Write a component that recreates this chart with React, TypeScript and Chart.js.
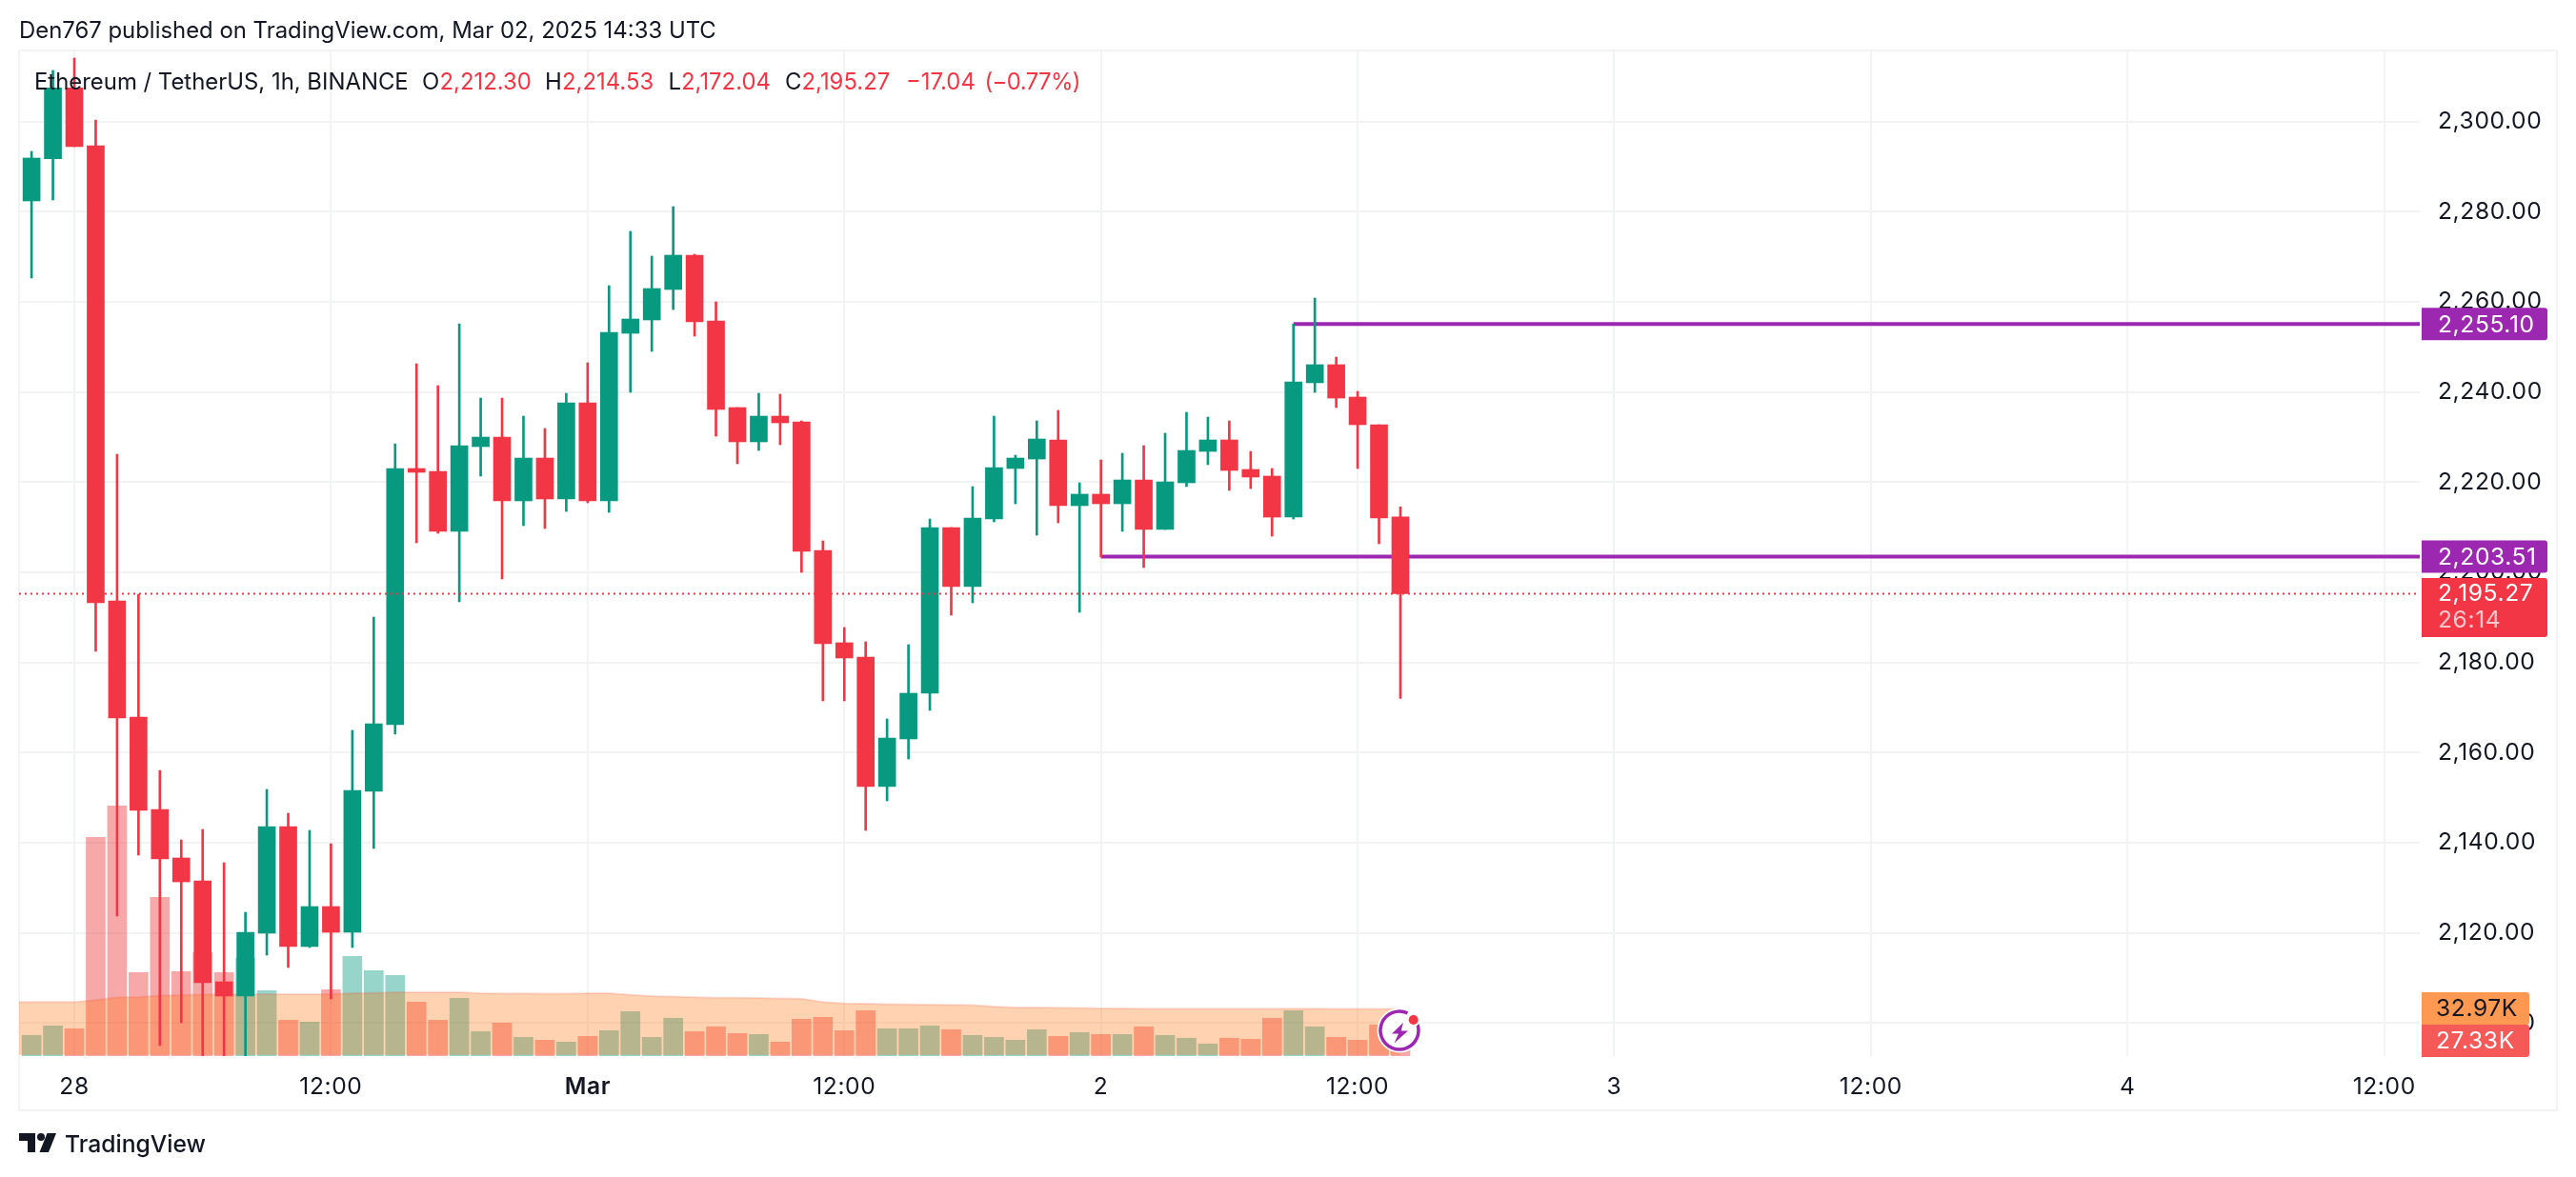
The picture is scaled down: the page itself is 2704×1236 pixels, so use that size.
import React, { useEffect, useRef } from "react";
import { Chart, registerables } from "chart.js";

Chart.register(...registerables);

const opens = [2282.4,2291.76,2307.48,2294.65,2193.66,2167.89,2147.39,2136.62,2131.55,2109.15,2105.98,2119.93,2143.59,2116.97,2125.84,2120.14,2151.41,2166.2,2223.03,2222.4,2209.09,2227.89,2230,2215.85,2225.35,2216.27,2237.61,2215.85,2253.03,2255.99,2262.75,2270.36,2255.78,2236.55,2228.95,2234.65,2233.38,2204.86,2184.37,2181.2,2152.46,2163.03,2173.17,2209.93,2196.83,2211.83,2223.03,2225.14,2229.37,2214.79,2217.33,2215.21,2220.49,2209.51,2219.86,2226.83,2229.37,2222.82,2221.34,2212.25,2242.05,2246.06,2238.88,2232.75,2212.3];
const highs = [2293.39,2311.35,2314.09,2300.36,2226.2,2195.14,2156.05,2140.63,2142.95,2135.56,2124.57,2151.83,2146.55,2142.74,2139.79,2164.93,2190.07,2228.52,2246.27,2241.41,2255.14,2238.66,2238.66,2234.65,2231.9,2239.72,2246.48,2263.6,2275.64,2270.15,2281.13,2270.57,2260,2236.55,2239.72,2239.51,2233.59,2206.97,2187.75,2184.58,2167.46,2183.94,2211.83,2209.93,2219.02,2234.65,2225.99,2233.59,2235.92,2219.86,2224.93,2226.41,2228.1,2230.85,2235.5,2234.44,2233.59,2226.83,2223.03,2255.1,2260.85,2247.75,2240.14,2232.75,2214.53];
const lows = [2265.29,2282.61,2294.44,2182.46,2123.73,2137.25,2094.99,2100.07,2092.46,2092.46,2092.46,2115.07,2112.32,2116.76,2105.35,2116.76,2138.73,2164.08,2206.55,2208.66,2193.45,2221.34,2198.52,2210.35,2209.72,2213.52,2215.42,2213.31,2239.93,2249.02,2258.31,2252.4,2230.21,2224.09,2227.04,2228.31,2200,2171.48,2171.48,2142.74,2149.29,2158.59,2169.37,2190.49,2193.24,2211.2,2215.21,2208.24,2210.99,2191.13,2203.38,2209.09,2201.06,2209.51,2219.02,2223.88,2218.17,2218.59,2208.03,2211.83,2239.93,2236.55,2223.03,2206.34,2172.04];
const closes = [2291.91,2307.48,2294.44,2193.24,2167.67,2147.18,2136.41,2131.33,2108.94,2105.98,2120.14,2143.59,2116.97,2125.84,2120.14,2151.62,2166.41,2223.03,2222.19,2209.09,2228.1,2230,2215.85,2225.35,2216.27,2237.61,2215.85,2253.24,2256.2,2262.96,2270.36,2255.57,2236.13,2228.95,2234.65,2233.17,2204.65,2184.15,2180.99,2152.46,2163.24,2173.17,2209.93,2196.83,2212.04,2223.24,2225.35,2229.58,2214.79,2217.33,2215.21,2220.49,2209.51,2220.07,2227.04,2229.37,2222.61,2221.13,2212.25,2242.26,2246.06,2238.66,2232.75,2212.04,2195.27];
const volumes = [14.5,21.1,19.1,153.1,175.1,58.5,111.1,59.1,72.5,58.5,68.5,45.8,25.1,23.8,46.5,69.8,59.8,56.5,37.8,25.1,40.5,17.1,23.1,13.1,11.1,9.8,13.8,17.8,31.1,13.1,26.5,17.1,20.5,15.8,15.1,9.8,25.8,27.1,17.8,31.8,19.1,19.1,21.1,18.5,14.5,13.1,11.1,18.5,13.8,16.5,15.1,15.1,20.5,14.5,12.5,8.5,12.5,11.8,26.5,31.8,20.5,13.1,11.1,21.8,27.33];
const volumeMA = [37.8,37.8,37.8,37.8,39.1,41.1,41.3,42.4,42.7,43.1,43.3,43.3,43.3,43.3,43.3,43.3,44,44.2,44.7,44.7,44.7,44.7,44,43.8,43.8,43.6,43.6,44,44,42.9,42,41.6,41.1,40.9,40.9,40.7,40.4,40.2,37.8,36.9,36.7,36.4,36.2,36,35.8,35.6,34.7,34,34,33.8,33.6,33.3,33.3,33.1,33.1,33.1,33.1,33.1,33.1,33.1,33.1,33.1,33,33,33,32.97];
const timeTickHours = [2,14,26,38,50,62,74,86,98,110];
const timeTickLabels = ["28","12:00","Mar","12:00","2","12:00","3","12:00","4","12:00"];
const priceTicks = [2100,2120,2140,2160,2180,2200,2220,2240,2260,2280,2300];
const resistanceLevel = 2255.1;
const supportLevel = 2203.51;
const lastPrice = 2195.27;
const resistanceStartHour = 59;
const supportStartHour = 50;
const lastHour = 64;
const volumeMALast = "32.97K";
const volumeLast = "27.33K";
const countdown = "26:14";

const RED = "#f23645";
const TEAL = "#089981";
const PURPLE = "#9c27b0";
const INK = "#131722";
const GRID = "#f2f3f4";
const FONT = "Inter, 'Noto Sans', sans-serif";
const XMIN = -0.584;
const XMAX = 111.66;

const fmt = (v: number) => v.toLocaleString("en-US", { minimumFractionDigits: 2, maximumFractionDigits: 2 });
const up = (i: number) => closes[i] >= opens[i];

function tag(ctx: any, x: number, y: number, w: number, h: number, color: string) {
  ctx.fillStyle = color;
  ctx.beginPath();
  ctx.roundRect(x, y, w, h, [0, 3, 3, 0]);
  ctx.fill();
}

const chrome = {
  id: "chrome",
  beforeDraw(chart: any) {
    const c = chart.ctx;
    c.save();
    c.fillStyle = "#ffffff";
    c.fillRect(0, 0, chart.width, chart.height);
    c.strokeStyle = GRID;
    c.lineWidth = 2;
    c.strokeRect(20, 53, 2664, 1113);
    c.restore();
    c.letterSpacing = "0.6px";
  },
  afterDraw(chart: any) {
    const c = chart.ctx;
    const y = chart.scales.y;
    const x = chart.scales.x;
    c.save();
    c.textBaseline = "middle";
    c.textAlign = "left";
    c.letterSpacing = "0px";

    // header
    c.font = `23.9px ${FONT}`;
    c.fillStyle = INK;
    c.fillText("Den767 published on TradingView.com, Mar 02, 2025 14:33 UTC", 20, 33);

    // legend
    c.font = `23.9px ${FONT}`;
    const legend: [string, number, string][] = [
      ["Ethereum / TetherUS, 1h, BINANCE", 36, INK],
      ["O", 443, INK],
      ["2,212.30", 461.5, RED],
      ["H", 572, INK],
      ["2,214.53", 590, RED],
      ["L", 701.5, INK],
      ["2,172.04", 715, RED],
      ["C", 824, INK],
      ["2,195.27", 841.5, RED],
      ["\u221217.04", 951, RED],
    ];
    legend.forEach(([t, px, col]) => {
      c.fillStyle = col;
      c.fillText(t, px, 87);
    });
    c.letterSpacing = "-0.6px";
    c.fillStyle = RED;
    c.fillText("(\u22120.77%)", 1033.5, 87);
    c.letterSpacing = "0.6px";

    // price tags
    c.font = `24.6px ${FONT}`;
    const py1 = y.getPixelForValue(resistanceLevel);
    tag(c, 2542, py1 - 17, 132, 34, PURPLE);
    c.fillStyle = "#ffffff";
    c.fillText(fmt(resistanceLevel), 2559, py1 + 1);
    const py2 = y.getPixelForValue(supportLevel);
    tag(c, 2542, py2 - 17, 132, 34, PURPLE);
    c.fillStyle = "#ffffff";
    c.fillText(fmt(supportLevel), 2559, py2 + 1);
    const py3 = y.getPixelForValue(lastPrice);
    tag(c, 2542, py3 - 16.5, 132, 62, RED);
    c.fillStyle = "#ffffff";
    c.fillText(fmt(lastPrice), 2559, py3 + 0.5);
    c.fillStyle = "rgba(255,255,255,0.72)";
    c.fillText(countdown, 2559, py3 + 28.5);

    // volume tags
    tag(c, 2542, 1042, 113, 34, "#ff9850");
    c.fillStyle = INK;
    c.fillText(volumeMALast, 2557, 1060);
    tag(c, 2542, 1076, 113, 34, "#f55a58");
    c.fillStyle = "#ffffff";
    c.fillText(volumeLast, 2557, 1094);
    c.letterSpacing = "0px";

    // lightning badge
    const cx = x.getPixelForValue(lastHour) - 1;
    const cy = 1082;
    c.fillStyle = "#ffffff";
    c.beginPath();
    c.arc(cx, cy, 23.5, 0, Math.PI * 2);
    c.fill();
    c.strokeStyle = PURPLE;
    c.lineWidth = 3.5;
    c.beginPath();
    c.arc(cx, cy, 20, -Math.PI * 0.12, -Math.PI * 0.36);
    c.stroke();
    c.fillStyle = PURPLE;
    c.beginPath();
    c.moveTo(cx + 4, cy - 8);
    c.lineTo(cx - 8, cy + 3.5);
    c.lineTo(cx - 1, cy + 3.5);
    c.lineTo(cx - 5.5, cy + 13.5);
    c.lineTo(cx + 9, cy + 0.5);
    c.lineTo(cx + 1.7, cy + 0.5);
    c.closePath();
    c.fill();
    c.fillStyle = "#ffffff";
    c.beginPath();
    c.arc(cx + 14.7, cy - 11, 7, 0, Math.PI * 2);
    c.fill();
    c.fillStyle = RED;
    c.beginPath();
    c.arc(cx + 14.7, cy - 11, 5, 0, Math.PI * 2);
    c.fill();

    // TradingView logo
    c.fillStyle = INK;
    c.beginPath();
    c.moveTo(20, 1190);
    c.lineTo(37, 1190);
    c.lineTo(37, 1210);
    c.lineTo(29, 1210);
    c.lineTo(29, 1198);
    c.lineTo(20, 1198);
    c.closePath();
    c.fill();
    c.beginPath();
    c.arc(43, 1194, 4, 0, Math.PI * 2);
    c.fill();
    c.beginPath();
    c.moveTo(49.5, 1190);
    c.lineTo(59, 1190);
    c.lineTo(51, 1210);
    c.lineTo(41.5, 1210);
    c.closePath();
    c.fill();
    c.font = `500 24.7px ${FONT}`;
    c.fillStyle = INK;
    c.fillText("TradingView", 68, 1203);
    c.restore();
  },
};

export default function App() {
  const ref = useRef<HTMLCanvasElement | null>(null);
  useEffect(() => {
    document.body.style.margin = "0";
    const hours = opens.map((_, i) => i);
    const candleColors = hours.map((i) => (up(i) ? TEAL : RED));
    const volColors = hours.map((i) => (up(i) ? "rgba(8,153,129,0.42)" : "rgba(235,50,50,0.42)"));
    const chart = new Chart(ref.current as HTMLCanvasElement, {
      type: "bar",
      plugins: [chrome],
      data: {
        datasets: [
          {
            label: "Volume",
            yAxisID: "vol",
            order: 7,
            grouped: false,
            barThickness: 20,
            borderWidth: 0,
            backgroundColor: volColors,
            data: hours.map((i) => ({ x: i, y: volumes[i] })),
          },
          {
            type: "line",
            label: "Volume MA",
            yAxisID: "vol",
            order: 6,
            pointRadius: 0,
            borderWidth: 2,
            borderColor: "rgba(242,90,69,0.2)",
            backgroundColor: "rgba(255,109,0,0.3)",
            fill: { value: 0.9 },
            data: volumeMA.map((v, k) => ({ x: k - 1, y: v })),
          },
          {
            type: "line",
            label: "Resistance",
            yAxisID: "y",
            order: 5,
            pointRadius: 0,
            borderWidth: 4,
            borderColor: PURPLE,
            data: [{ x: resistanceStartHour, y: resistanceLevel }, { x: XMAX, y: resistanceLevel }],
          },
          {
            type: "line",
            label: "Support",
            yAxisID: "y",
            order: 4,
            pointRadius: 0,
            borderWidth: 4,
            borderColor: PURPLE,
            data: [{ x: supportStartHour, y: supportLevel }, { x: XMAX, y: supportLevel }],
          },
          {
            label: "Wicks",
            yAxisID: "y",
            order: 3,
            grouped: false,
            barThickness: 2,
            borderWidth: 0,
            backgroundColor: candleColors,
            data: hours.map((i) => ({ x: i, y: [lows[i], highs[i]] })),
          },
          {
            label: "Bodies",
            yAxisID: "y",
            order: 2,
            grouped: false,
            barThickness: 18,
            borderWidth: 0,
            backgroundColor: candleColors,
            data: hours.map((i) => ({ x: i, y: [opens[i], closes[i]] })),
          },
          {
            type: "line",
            label: "Last price",
            yAxisID: "y",
            order: 1,
            pointRadius: 0,
            borderWidth: 2,
            borderDash: [2, 4],
            borderColor: RED,
            data: [{ x: XMIN, y: lastPrice }, { x: XMAX, y: lastPrice }],
          },
        ] as any,
      },
      options: {
        responsive: false,
        animation: false,
        devicePixelRatio: 1,
        events: [],
        layout: { padding: { left: 20, top: 53, right: 20, bottom: 70 } },
        plugins: { legend: { display: false }, title: { display: false }, tooltip: { enabled: false } },
        scales: {
          x: {
            type: "linear",
            min: XMIN,
            max: XMAX,
            offset: false,
            border: { display: false },
            grid: { color: GRID, lineWidth: 2, drawTicks: false, offset: false },
            afterBuildTicks: (s: any) => {
              s.ticks = timeTickHours.map((v) => ({ value: v }));
            },
            afterFit: (s: any) => {
              s.height = 57;
            },
            ticks: {
              autoSkip: false,
              maxRotation: 0,
              padding: 18,
              color: INK,
              font: (ctx: any) => ({ family: FONT, size: 24.6, weight: timeTickLabels[ctx.index] === "Mar" ? "600" : "400" }),
              callback: (_v: any, i: number) => timeTickLabels[i],
            },
          },
          y: {
            type: "linear",
            position: "right",
            min: 2092.67,
            max: 2315.78,
            border: { display: false },
            grid: { color: GRID, lineWidth: 2, drawTicks: false },
            afterBuildTicks: (s: any) => {
              s.ticks = priceTicks.map((v) => ({ value: v }));
            },
            afterFit: (s: any) => {
              s.width = 144;
            },
            ticks: {
              padding: 19,
              crossAlign: "near",
              color: INK,
              font: { family: FONT, size: 24.6 },
              callback: (v: any) => fmt(Number(v)),
            },
          },
          vol: {
            type: "linear",
            display: false,
            min: 0,
            max: 704,
          },
        },
      } as any,
    });
    return () => chart.destroy();
  }, []);
  return (
    <div style={{ position: "absolute", left: 0, top: 0, width: 2704, height: 1236, background: "#fff" }}>
      <canvas ref={ref} width={2704} height={1236} style={{ display: "block" }} />
    </div>
  );
}
